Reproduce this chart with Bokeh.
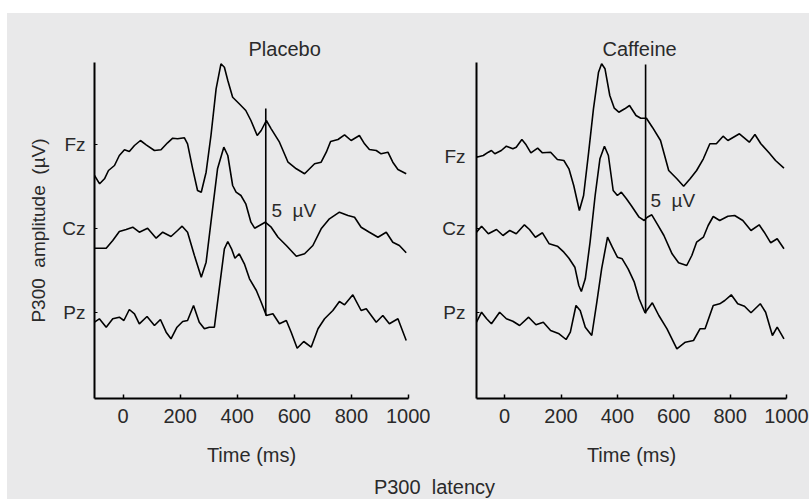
from bokeh.plotting import figure
from bokeh.models import FixedTicker, Label, Spacer, Title
from bokeh.layouts import row, column
from bokeh.embed import file_html
from bokeh.resources import INLINE

# ---------------- data (time in ms, amplitude in µV relative to channel baseline) ----------------
channels = ["Fz", "Cz", "Pz"]
time_ticks = [0, 200, 400, 600, 800, 1000]

placebo_fz_t = [-100, -82, -65, -51, -30, -13, 5, 22, 40, 61, 81, 110, 133, 156, 174, 191, 215, 226, 244, 261,
                274, 291, 308, 326, 343, 355, 367, 384, 407, 430, 448, 470, 484, 502, 519, 548, 578, 607, 636, 671,
                694, 712, 727, 753, 776, 799, 828, 846, 863, 887, 904, 928, 945, 963, 992]
placebo_fz = [-3.07, -3.90, -3.40, -2.57, -2.07, -1.07, -0.50, -0.67, -0.07, 0.43, 0.00, -0.57, -0.50, 0.20, 0.66,
              0.60, 0.70, 0.10, -2.40, -4.57, -4.74, -2.74, 0.93, 5.60, 8.10, 7.76, 6.43, 4.76, 4.10, 3.43, 2.43,
              0.93, 1.43, 2.43, 1.60, 0.26, -1.74, -2.40, -2.90, -1.90, -1.74, -0.74, 0.33, 0.53, 1.00, 0.43, 0.93,
              0.10, -0.47, -0.57, -0.90, -0.74, -1.74, -2.47, -2.90]

placebo_cz_t = [-100, -59, -36, -13, 11, 34, 57, 86, 116, 139, 168, 191, 207, 226, 250, 274, 291, 308, 331, 353,
                367, 384, 396, 413, 430, 448, 461, 478, 498, 519, 543, 572, 607, 636, 665, 694, 723, 758, 788, 811,
                834, 863, 893, 922, 945, 968, 992]
placebo_cz = [-1.94, -1.94, -1.17, -0.27, -0.07, 0.16, -0.34, 0.06, -0.94, -0.34, -0.77, -0.17, 0.26, -0.34, -2.67,
              -4.84, -3.34, 0.66, 6.00, 8.16, 7.33, 4.33, 3.66, 3.33, 2.50, 0.66, 0.06, 0.33, 0.66, 0.16, -0.84,
              -1.67, -2.74, -2.50, -1.67, 0.00, 1.00, 1.66, 1.33, 1.16, 0.16, -0.34, -0.84, -0.34, -1.34, -1.67, -2.40]

placebo_pz_t = [-100, -83, -59, -36, -13, 3, 22, 40, 57, 84, 110, 131, 151, 168, 189, 209, 226, 247, 267, 285,
                302, 320, 337, 355, 367, 380, 392, 407, 425, 443, 467, 484, 502, 525, 548, 572, 589, 610, 633, 659,
                683, 706, 735, 758, 776, 805, 834, 852, 887, 910, 933, 963, 992]
placebo_pz = [-0.94, -0.60, -1.44, -0.60, -0.44, -0.77, 0.33, -0.10, -1.10, -0.37, -1.27, -0.67, -1.94, -2.60, -1.44,
              -0.87, -0.77, 0.73, -0.94, -1.60, -1.44, -1.44, 2.40, 6.40, 7.13, 6.40, 5.46, 5.90, 4.90, 3.40, 2.23,
              1.06, -0.27, -0.10, -1.10, -0.77, -1.94, -3.54, -2.87, -3.44, -1.60, -0.60, 0.23, 1.13, 0.80, 1.80,
              0.23, 0.40, -0.94, -0.27, -1.10, -0.60, -2.77]

caffeine_fz_t = [-100, -76, -58, -47, -35, -12, 6, 29, 41, 61, 76, 93, 117, 134, 163, 187, 210, 228, 245, 265,
                 280, 298, 315, 333, 344, 356, 373, 389, 405, 426, 443, 466, 483, 503, 524, 553, 582, 611, 635, 658,
                 681, 705, 728, 751, 775, 792, 833, 868, 888, 909, 938, 961, 991]
caffeine_fz = [-1.24, -1.07, -0.74, -0.57, -0.90, -0.57, -0.14, -0.40, -0.24, 0.53, 0.00, -0.80, -0.34, -0.80, -0.74,
               -1.47, -1.57, -2.40, -4.07, -6.57, -5.07, -0.74, 3.60, 7.26, 8.10, 7.60, 4.93, 3.66, 3.26, 3.60, 3.93,
               2.93, 2.66, 2.66, 1.76, 0.43, -2.57, -3.40, -4.14, -3.40, -2.57, -1.40, 0.10, 0.10, 0.86, 0.43, 1.10,
               0.26, 1.03, 0.10, -0.80, -1.57, -2.34]

caffeine_cz_t = [-100, -82, -58, -29, -6, 18, 41, 70, 88, 109, 134, 158, 187, 210, 228, 249, 263, 272, 286, 303,
                 321, 338, 354, 368, 385, 400, 414, 432, 449, 477, 495, 506, 522, 541, 565, 594, 617, 646, 664, 681,
                 705, 722, 740, 763, 792, 816, 845, 874, 903, 921, 944, 967, 991]
caffeine_cz = [-0.34, 0.26, -0.50, -0.07, -0.67, -0.17, -0.50, 0.40, -0.07, -0.84, -0.40, -1.50, -1.74, -2.34, -2.94,
               -3.84, -5.67, -6.27, -5.00, -1.34, 3.33, 7.00, 8.26, 7.33, 3.83, 3.33, 3.66, 3.00, 2.33, 1.16, 0.83,
               1.16, 1.40, 0.50, -0.67, -2.50, -3.40, -3.67, -2.67, -1.34, -0.84, 0.33, 1.23, 0.83, 1.26, 1.33, 0.83,
               -0.17, 0.40, -0.34, -1.40, -1.00, -2.00]

caffeine_pz_t = [-100, -82, -64, -47, -18, 6, 29, 53, 85, 111, 137, 163, 193, 218, 233, 253, 268, 286, 309, 327,
                 344, 365, 382, 400, 417, 438, 460, 477, 498, 524, 547, 576, 611, 641, 670, 693, 711, 740, 763, 781,
                 804, 827, 851, 874, 907, 926, 950, 967, 991]
caffeine_pz = [-0.94, 0.06, -0.60, -1.10, 0.06, -0.60, -0.84, -1.27, -0.44, -1.20, -0.94, -1.77, -2.10, -2.67, -1.94,
               0.73, 0.23, -1.44, -2.27, 1.06, 4.40, 7.56, 6.56, 5.56, 5.40, 4.40, 3.06, 1.40, 0.00, 1.00, -0.27,
               -1.60, -3.60, -2.94, -2.77, -1.60, -1.60, 0.73, 0.90, 1.23, 1.80, 0.90, 0.66, 0.00, 0.90, 0.06, -2.27,
               -1.44, -2.60]

# vertical offsets of the stacked channels and the 5 µV scale bar (at 500 ms)
channel_offset = {"Fz": 25.37, "Cz": 16.97, "Pz": 8.57}
bar_time = [500, 500]
placebo_bar = [8.3, 29.0]
caffeine_bar = [8.5, 33.4]

# ---------------- styling ----------------
BG = "#e9e9ea"
TXT = "#2a2a2a"
FONT = "Liberation Sans"
Y_TOP = 33.6
NB = "\u00a0 "   # keeps the wide word gaps of the original


def panel(title, title_offset, traces, label_pos, bar_y, uv_x, uv_y, width, left, right, lab_standoff):
    p = figure(width=width, height=461, x_range=(-100, 1000), y_range=(0, Y_TOP),
               output_backend="svg", toolbar_location=None,
               min_border_left=left, min_border_right=right, min_border_top=49, min_border_bottom=76)
    p.background_fill_color = BG
    p.border_fill_color = BG
    p.outline_line_color = None
    p.grid.visible = False
    p.add_layout(Title(text=title, align="left", offset=title_offset, text_font=FONT,
                       text_font_size="20px", text_font_style="normal", text_color=TXT, standoff=5), "above")

    for t, amp, ch in traces:
        off = channel_offset[ch]
        p.line(t, [a + off for a in amp], line_color="black", line_width=1.6)
    p.line(bar_time, bar_y, line_color="black", line_width=1.6)

    p.add_layout(Label(x=uv_x, y=uv_y, text="5" + NB + "µV", text_font=FONT, text_font_size="19px",
                       text_color=TXT, text_align="left", text_baseline="middle"))

    xa = p.xaxis[0]
    xa.ticker = FixedTicker(ticks=time_ticks)
    xa.minor_tick_line_color = None
    xa.major_tick_in = 4
    xa.major_tick_out = 0
    xa.major_tick_line_width = 1.5
    xa.axis_line_width = 2
    xa.major_label_text_font = FONT
    xa.major_label_text_font_size = "20px"
    xa.major_label_text_color = TXT
    xa.major_label_standoff = 10
    xa.axis_label = "Time (ms)"
    xa.axis_label_text_font = FONT
    xa.axis_label_text_font_size = "20px"
    xa.axis_label_text_font_style = "normal"
    xa.axis_label_text_color = TXT
    xa.axis_label_standoff = 18

    ya = p.yaxis[0]
    ya.ticker = FixedTicker(ticks=list(label_pos.values()))
    ya.major_label_overrides = {v: k for k, v in label_pos.items()}
    ya.minor_tick_line_color = None
    ya.major_tick_in = 3
    ya.major_tick_out = 0
    ya.axis_line_width = 2
    ya.major_label_text_font = FONT
    ya.major_label_text_font_size = "19px"
    ya.major_label_text_color = TXT
    ya.major_label_standoff = lab_standoff
    return p


p1 = panel("Placebo", 154,
           [(placebo_fz_t, placebo_fz, "Fz"), (placebo_cz_t, placebo_cz, "Cz"), (placebo_pz_t, placebo_pz, "Pz")],
           {"Fz": 25.37, "Cz": 16.97, "Pz": 8.57}, placebo_bar, 520, 18.85,
           width=423, left=87, right=22, lab_standoff=9)
ya1 = p1.yaxis[0]
ya1.axis_label = "P300" + NB + "amplitude" + NB + "(µV)"
ya1.axis_label_text_font = FONT
ya1.axis_label_text_font_size = "19px"
ya1.axis_label_text_font_style = "normal"
ya1.axis_label_text_color = TXT
ya1.axis_label_standoff = 10

p2 = panel("Caffeine", 126,
           [(caffeine_fz_t, caffeine_fz, "Fz"), (caffeine_cz_t, caffeine_cz, "Cz"), (caffeine_pz_t, caffeine_pz, "Pz")],
           {"Fz": 24.2, "Cz": 16.97, "Pz": 8.57}, caffeine_bar, 517, 19.8,
           width=379, left=46, right=23, lab_standoff=11)

p3 = figure(width=802, height=25, x_range=(0, 802), y_range=(0, 25), output_backend="svg",
            toolbar_location=None, x_axis_location=None, y_axis_location=None, min_border=0)
p3.background_fill_color = BG
p3.border_fill_color = BG
p3.outline_line_color = None
p3.grid.visible = False
p3.add_layout(Label(x=427, y=13, text="P300" + NB + "latency", text_font=FONT, text_font_size="20px",
                    text_color=TXT, text_align="center", text_baseline="middle"))

content = column(row(p1, p2, styles={"background-color": BG}), p3, styles={"background-color": BG})
layout = column(Spacer(width=809, height=13),
                row(Spacer(width=7, height=486), content))
open("out.html", "w").write(file_html(layout, INLINE))
